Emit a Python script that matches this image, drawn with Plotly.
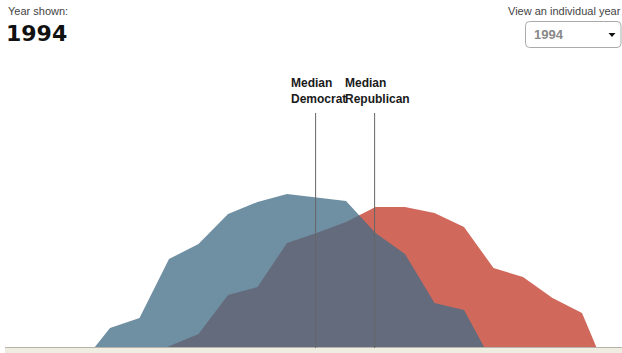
import plotly.graph_objects as go

# Bin positions (ideology bins) and shares
dem_x = [-0.54, 0, 1, 2, 3, 4, 5, 6, 7, 8, 9, 10, 11, 12, 12.7]
dem_y = [0, 20, 30, 89, 104, 134, 146, 154, 150.6, 147, 115, 94, 45, 38, 0]

rep_x = [1.86, 3, 4, 5, 6, 7, 8, 9, 10, 11, 12, 13, 14, 15, 16, 16.5]
rep_y = [0, 14, 53, 61, 105, 115, 126, 141, 141, 135, 121, 80, 71, 50, 35, 0]

median_dem = 6.97
median_rep = 8.97
year = "1994"

W, H = 622, 353
X0, XS = 110, 29.5  # pixel mapping for helper computations
xr = [(0 - X0) / XS, (W - X0) / XS]
yr = [-5, 348]

def px2x(p):
    return (p - X0) / XS

fig = go.Figure()
fig.add_trace(go.Scatter(x=rep_x, y=rep_y, fill="tozeroy", mode="none",
                         fillcolor="#d0695b", hoverinfo="skip"))
fig.add_trace(go.Scatter(x=dem_x, y=dem_y, fill="tozeroy", mode="none",
                         fillcolor="rgba(66,108,134,0.76)", hoverinfo="skip"))

shapes = []
# baseline band
shapes.append(dict(type="rect", xref="paper", yref="paper", x0=5 / W, x1=1, y0=0, y1=5 / H,
                   fillcolor="#efece2", line_width=0, layer="above"))
shapes.append(dict(type="line", xref="paper", yref="paper", x0=5 / W, x1=1, y0=5.5 / H, y1=5.5 / H,
                   line=dict(color="#b5b3aa", width=1), layer="above"))
# median lines
for m in (median_dem, median_rep):
    shapes.append(dict(type="line", xref="x", yref="y", x0=m, x1=m, y0=0, y1=348 - 113,
                       line=dict(color="#666666", width=1), layer="above"))
# dropdown box (rounded)
bx0, bx1, by0, by1, r = 525.5, 621, 21.5, 47.5, 4
def fy(p):
    return 1 - p / H
def fx(p):
    return p / W
path = (f"M {fx(bx0 + r)},{fy(by0)} L {fx(bx1 - r)},{fy(by0)} "
        f"Q {fx(bx1)},{fy(by0)} {fx(bx1)},{fy(by0 + r)} "
        f"L {fx(bx1)},{fy(by1 - r)} Q {fx(bx1)},{fy(by1)} {fx(bx1 - r)},{fy(by1)} "
        f"L {fx(bx0 + r)},{fy(by1)} Q {fx(bx0)},{fy(by1)} {fx(bx0)},{fy(by1 - r)} "
        f"L {fx(bx0)},{fy(by0 + r)} Q {fx(bx0)},{fy(by0)} {fx(bx0 + r)},{fy(by0)} Z")
shapes.append(dict(type="path", xref="paper", yref="paper", path=path,
                   line=dict(color="#aaaaaa", width=1), fillcolor="rgba(0,0,0,0)"))
# dropdown arrow
ax, ay = 612, 33
shapes.append(dict(type="path", xref="paper", yref="paper",
                   path=f"M {fx(ax - 3.5)},{fy(ay)} L {fx(ax + 3.5)},{fy(ay)} L {fx(ax)},{fy(ay + 4)} Z",
                   fillcolor="#111111", line_width=0))

ann = []
FONT = "Arial, Liberation Sans, sans-serif"
BOLD = "DejaVu Sans, Verdana, sans-serif"
ann.append(dict(text="Year shown:", xref="paper", yref="paper", x=6 / W, y=fy(3),
                xanchor="left", yanchor="top", showarrow=False,
                font=dict(family=FONT, size=11, color="#444444")))
ann.append(dict(text=f"<b>{year}</b>", xref="paper", yref="paper", x=4 / W, y=fy(19),
                xanchor="left", yanchor="top", showarrow=False,
                font=dict(family=BOLD, size=22, color="#111111")))
ann.append(dict(text="View an individual year", xref="paper", yref="paper", x=506 / W, y=fy(3),
                xanchor="left", yanchor="top", showarrow=False,
                font=dict(family=FONT, size=11, color="#444444")))
ann.append(dict(text=f"<b>{year}</b>", xref="paper", yref="paper", x=532 / W, y=fy(34.5),
                xanchor="left", yanchor="middle", showarrow=False,
                font=dict(family=FONT, size=13, color="#888888")))
ann.append(dict(text="<b>Median<br>Democrat</b>", xref="x", yref="paper", x=px2x(289), y=fy(74),
                xanchor="left", yanchor="top", align="left", showarrow=False,
                font=dict(family=FONT, size=12, color="#1a1a1a")))
ann.append(dict(text="<b>Median<br>Republican</b>", xref="x", yref="paper", x=px2x(343), y=fy(74),
                xanchor="left", yanchor="top", align="left", showarrow=False,
                font=dict(family=FONT, size=12, color="#1a1a1a")))

fig.update_layout(
    width=W, height=H, margin=dict(l=0, r=0, t=0, b=0),
    paper_bgcolor="white", plot_bgcolor="white", showlegend=False,
    xaxis=dict(range=xr, visible=False, fixedrange=True),
    yaxis=dict(range=yr, visible=False, fixedrange=True),
    shapes=shapes, annotations=ann,
)
fig.write_html("out.html")
